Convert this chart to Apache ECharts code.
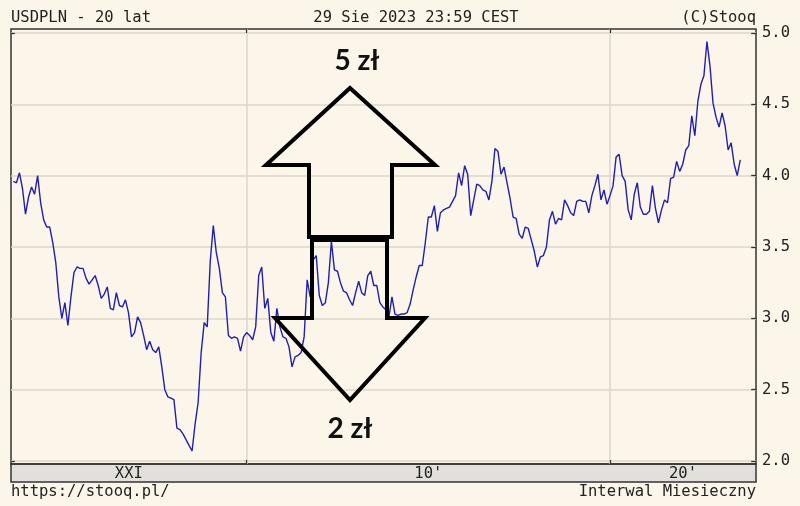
<!DOCTYPE html>
<html><head><meta charset="utf-8">
<script src="https://cdn.jsdelivr.net/npm/echarts@6/dist/echarts.min.js"></script>
<style>html,body{margin:0;padding:0;background:#fcf5ea}#c{width:800px;height:506px}</style>
</head><body><div id="c"></div><script>
// Monthly USDPLN closes, first value = Aug 2003
const startMonth = '2003-08';
const values = [
3.96,3.95,4.02,3.91,3.73,3.85,3.92,3.87,4.00,3.81,3.69,3.64,3.64,3.53,3.39,3.15,3.00,3.11,2.95,3.15,
3.32,3.36,3.35,3.35,3.28,3.24,3.27,3.30,3.23,3.14,3.17,3.22,3.07,3.06,3.18,3.09,3.08,3.13,3.04,2.87,
2.90,3.01,2.97,2.88,2.78,2.84,2.78,2.76,2.80,2.66,2.50,2.45,2.44,2.43,2.23,2.22,2.19,2.15,2.11,2.07,
2.26,2.41,2.76,2.97,2.94,3.40,3.65,3.46,3.35,3.18,3.15,2.88,2.86,2.87,2.86,2.77,2.87,2.90,2.88,2.85,
2.94,3.30,3.36,3.07,3.14,2.90,2.84,3.07,2.94,2.87,2.86,2.80,2.66,2.73,2.74,2.76,2.87,3.27,3.15,3.41,
3.44,3.16,3.09,3.11,3.25,3.54,3.34,3.33,3.25,3.19,3.18,3.13,3.09,3.18,3.26,3.18,3.16,3.30,3.33,3.23,
3.23,3.11,3.08,3.06,3.01,3.15,3.03,3.02,3.03,3.03,3.04,3.10,3.20,3.29,3.37,3.37,3.53,3.71,3.71,3.79,
3.61,3.74,3.76,3.77,3.78,3.82,3.86,4.02,3.93,4.07,4.01,3.72,3.83,3.94,3.93,3.90,3.89,3.83,3.96,4.19,
4.17,4.01,4.06,3.95,3.84,3.71,3.70,3.59,3.56,3.64,3.63,3.55,3.47,3.36,3.43,3.44,3.50,3.69,3.75,3.66,
3.70,3.69,3.83,3.79,3.74,3.72,3.82,3.83,3.82,3.82,3.74,3.86,3.93,4.01,3.83,3.90,3.80,3.86,3.93,4.13,
4.15,4.00,3.96,3.76,3.69,3.87,3.95,3.78,3.73,3.73,3.75,3.93,3.77,3.67,3.76,3.83,3.81,3.98,3.99,4.10,
4.03,4.08,4.18,4.21,4.42,4.28,4.52,4.64,4.70,4.94,4.77,4.51,4.41,4.34,4.44,4.35,4.18,4.23,4.08,4.00,
4.11
];
const decadeStarts = ['2010-01', '2020-01'];
const eraLabels = ['XXI', "10'", "20'"];
const yTicks = [2.0, 2.5, 3.0, 3.5, 4.0, 4.5, 5.0];
const yEdgeTicks = [2.0, 5.0];
const titleLeft = 'USDPLN - 20 lat';
const titleCenter = '29 Sie 2023 23:59 CEST';
const titleRight = '(C)Stooq';
const footLeft = 'https://stooq.pl/';
const footRight = 'Interwal Miesieczny';
const upLabel = '5 zł';
const downLabel = '2 zł';

function monthIndex(s) {
  const [y, m] = s.split('-').map(Number);
  const [y0, m0] = startMonth.split('-').map(Number);
  return (y - y0) * 12 + (m - m0);
}
const decadeIdx = decadeStarts.map(monthIndex);
const xMin = -0.79, xMax = 245.2;
const yMin = 1.979, yMax = 5.028;
const tickLenMonths = 1.6;
const bounds = [xMin, ...decadeIdx, xMax];
const eraCenters = eraLabels.map((_, i) => (bounds[i] + bounds[i + 1]) / 2);
const mono = "'DejaVu Sans Mono', monospace";
const ink = '#222';
const gridCol = '#ddd5ca';

const tickSegments = [
  ...yTicks.map(v => [{coord: [xMax - tickLenMonths, v]}, {coord: [xMax, v]}]),
  ...yEdgeTicks.map(v => [{coord: [xMin, v]}, {coord: [xMin + tickLenMonths * 0.8, v]}])
];

const chart = echarts.init(document.getElementById('c'), null, {renderer: 'canvas'});
chart.setOption({
  backgroundColor: '#fcf5ea',
  animation: false,
  grid: {left: 11, right: 44, top: 29, bottom: 42, show: true, borderColor: '#333', borderWidth: 1.5, backgroundColor: 'transparent'},
  xAxis: [{
    type: 'value', min: xMin, max: xMax, position: 'bottom',
    axisLine: {show: false},
    axisTick: {show: true, inside: true, length: 4, customValues: decadeIdx, lineStyle: {color: '#333', width: 1.2}},
    axisLabel: {
      customValues: eraCenters, margin: 2, color: ink, fontFamily: mono, fontSize: 15.5,
      formatter: v => { let best = 0; eraCenters.forEach((c, i) => { if (Math.abs(c - v) < Math.abs(eraCenters[best] - v)) best = i; }); return eraLabels[best]; }
    },
    splitLine: {show: true, lineStyle: {color: gridCol, width: 1.5}}
  }, {
    type: 'value', min: xMin, max: xMax, position: 'top',
    axisLine: {show: false},
    axisTick: {show: true, inside: true, length: 4, customValues: decadeIdx, lineStyle: {color: '#333', width: 1.2}},
    axisLabel: {show: false}, splitLine: {show: false}
  }],
  yAxis: [{
    type: 'value', min: yMin, max: yMax, position: 'right',
    axisLine: {show: false},
    axisTick: {show: false, customValues: yTicks},
    axisLabel: {customValues: yTicks, margin: 6, color: ink, fontFamily: mono, fontSize: 15.5, formatter: v => v.toFixed(1)},
    splitLine: {show: true, lineStyle: {color: gridCol, width: 1.5}}
  }],
  series: [{
    type: 'line', xAxisIndex: 0, yAxisIndex: 0, showSymbol: false, silent: true,
    data: values.map((v, i) => [i, v]),
    lineStyle: {color: '#1f1fb4', width: 1.4}, z: 5,
    markLine: {
      silent: true, symbol: 'none', animation: false,
      label: {show: false},
      lineStyle: {color: '#333', width: 1.3, type: 'solid'},
      data: tickSegments
    }
  }],
  graphic: [
    {type: 'rect', z: -1, shape: {x: 11, y: 464, width: 745, height: 18}, style: {fill: '#e3e0dc', stroke: '#333', lineWidth: 1.5}},
    {type: 'text', x: 11, y: 17.5, style: {text: titleLeft, font: "15.5px 'DejaVu Sans Mono'", fill: ink, align: 'left', verticalAlign: 'middle'}},
    {type: 'text', x: 416, y: 17.5, style: {text: titleCenter, font: "15.5px 'DejaVu Sans Mono'", fill: ink, align: 'center', verticalAlign: 'middle'}},
    {type: 'text', x: 756, y: 17.5, style: {text: titleRight, font: "15.5px 'DejaVu Sans Mono'", fill: ink, align: 'right', verticalAlign: 'middle'}},
    {type: 'text', x: 11, y: 492, style: {text: footLeft, font: "15.5px 'DejaVu Sans Mono'", fill: ink, align: 'left', verticalAlign: 'middle'}},
    {type: 'text', x: 756, y: 492, style: {text: footRight, font: "15.5px 'DejaVu Sans Mono'", fill: ink, align: 'right', verticalAlign: 'middle'}},
    {type: 'polygon', z: 20, shape: {points: [[350,88],[435,165],[392,165],[392,237],[309,237],[309,165],[266,165]]}, style: {fill: 'none', stroke: '#000', lineWidth: 4, lineJoin: 'miter'}},
    {type: 'polygon', z: 20, shape: {points: [[312,240],[387,240],[387,318],[425,318],[350,400],[275,318],[312,318]]}, style: {fill: 'none', stroke: '#000', lineWidth: 4, lineJoin: 'miter'}},
    {type: 'text', z: 20, x: 357, y: 61, style: {text: upLabel, font: "bold 28px Lato", fill: '#111', align: 'center', verticalAlign: 'middle'}},
    {type: 'text', z: 20, x: 350, y: 429, style: {text: downLabel, font: "bold 28px Lato", fill: '#111', align: 'center', verticalAlign: 'middle'}}
  ]
});
</script></body></html>
